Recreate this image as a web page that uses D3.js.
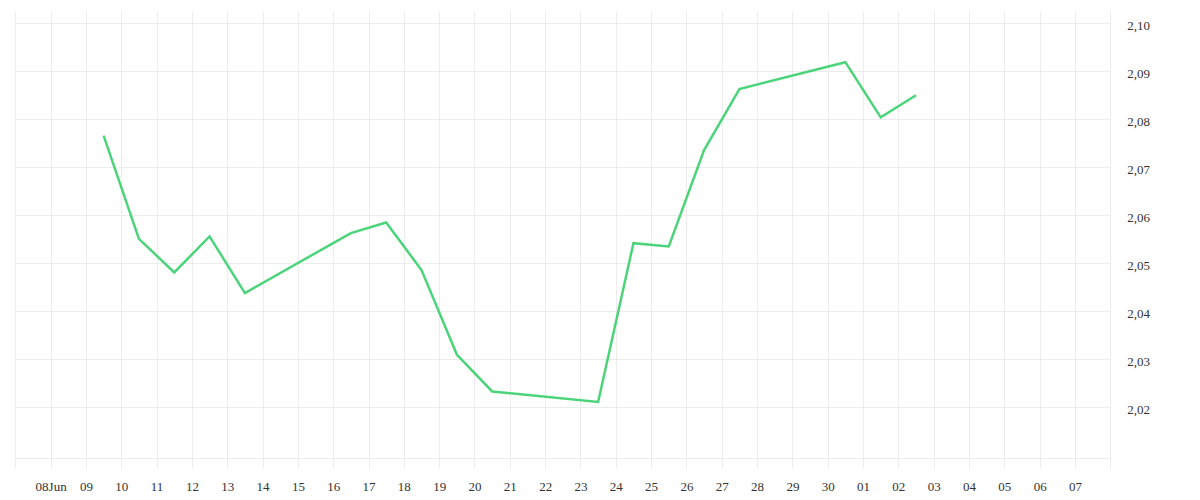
<!DOCTYPE html>
<html>
<head>
<meta charset="utf-8">
<script src="https://cdn.jsdelivr.net/npm/d3@7"></script>
<style>
  body { margin: 0; background: #fff; }
  .grid line { stroke: #ececec; stroke-width: 1; shape-rendering: crispEdges; }
  .axis text { font-family: "Liberation Serif", "DejaVu Serif", serif; font-size: 13px; fill: #333; }
  .axis path, .axis line { display: none; }
</style>
</head>
<body>
<script>
//series values (weekdays only, plotted at noon)
var dates = ["2025-06-09", "2025-06-10", "2025-06-11", "2025-06-12", "2025-06-13",
             "2025-06-16", "2025-06-17", "2025-06-18", "2025-06-19", "2025-06-20",
             "2025-06-23", "2025-06-24", "2025-06-25", "2025-06-26", "2025-06-27",
             "2025-06-30", "2025-07-01", "2025-07-02"];
var values = [2.0766, 2.0551, 2.0481, 2.0556, 2.0438,
              2.0563, 2.0585, 2.0486, 2.0310, 2.0233,
              2.0211, 2.0542, 2.0535, 2.0736, 2.0863,
              2.0919, 2.0804, 2.0850];
//tick labels
var xTickDates = d3.timeDays(new Date(2025, 5, 8), new Date(2025, 6, 8));
var xTickLabels = ["08Jun", "09", "10", "11", "12", "13", "14", "15", "16", "17", "18", "19",
                   "20", "21", "22", "23", "24", "25", "26", "27", "28", "29", "30",
                   "01", "02", "03", "04", "05", "06", "07"];
var yTicks = [2.02, 2.03, 2.04, 2.05, 2.06, 2.07, 2.08, 2.09, 2.10];
var yTickLabels = ["2,02", "2,03", "2,04", "2,05", "2,06", "2,07", "2,08", "2,09", "2,10"];

var width = 1200, height = 500;
var plotLeft = 15.3, plotRight = 1110.3, plotTop = 12, plotBottom = 458.3;

var parse = d3.timeParse("%Y-%m-%d");
var data = dates.map(function (d, i) {
    var t = parse(d);
    t.setHours(12);
    return { date: t, value: values[i] };
});

var x = d3.scaleTime()
    .domain([new Date(2025, 5, 7), new Date(2025, 6, 8)])
    .range([plotLeft, plotRight]);

//48px per 0.01, 2.10 at y=23.3
var y = d3.scaleLinear()
    .domain([2.10 - (plotBottom - 23.3) / 4800, 2.10 + (23.3 - plotTop) / 4800])
    .range([plotBottom, plotTop]);

var svg = d3.select("body").append("svg")
    .attr("width", width)
    .attr("height", height);

//vertical grid lines, one per day including the frame edges
svg.append("g").attr("class", "grid")
    .selectAll("line")
    .data(d3.timeDays(new Date(2025, 5, 7), new Date(2025, 6, 9)))
    .enter().append("line")
    .attr("x1", function (d) { return Math.round(x(d)) + 0.5; })
    .attr("x2", function (d) { return Math.round(x(d)) + 0.5; })
    .attr("y1", plotTop)
    .attr("y2", plotBottom + 10);

//horizontal grid lines plus bottom frame
svg.append("g").attr("class", "grid")
    .selectAll("line")
    .data(yTicks.concat([y.domain()[0]]))
    .enter().append("line")
    .attr("x1", plotLeft)
    .attr("x2", plotRight)
    .attr("y1", function (d) { return Math.round(y(d)) + 0.5; })
    .attr("y2", function (d) { return Math.round(y(d)) + 0.5; });

//x axis labels
svg.append("g")
    .attr("class", "axis")
    .attr("transform", "translate(0," + (plotBottom + 23) + ")")
    .call(d3.axisBottom(x)
        .tickValues(xTickDates)
        .tickSize(0)
        .tickPadding(0)
        .tickFormat(function (d, i) { return xTickLabels[i]; }));

//y axis labels on the right
var yAxis = svg.append("g")
    .attr("class", "axis")
    .attr("transform", "translate(" + (plotRight + 17) + ",0)")
    .call(d3.axisRight(y)
        .tickValues(yTicks)
        .tickSize(0)
        .tickPadding(0)
        .tickFormat(function (d, i) { return yTickLabels[i]; }));
yAxis.selectAll("text").attr("dy", "0.45em");

//the line
var line = d3.line()
    .x(function (d) { return x(d.date); })
    .y(function (d) { return y(d.value); });

svg.append("path")
    .datum(data)
    .attr("fill", "none")
    .attr("stroke", "#4cd47b")
    .attr("stroke-width", 2.5)
    .attr("stroke-linejoin", "miter")
    .attr("d", line);
</script>
</body>
</html>
